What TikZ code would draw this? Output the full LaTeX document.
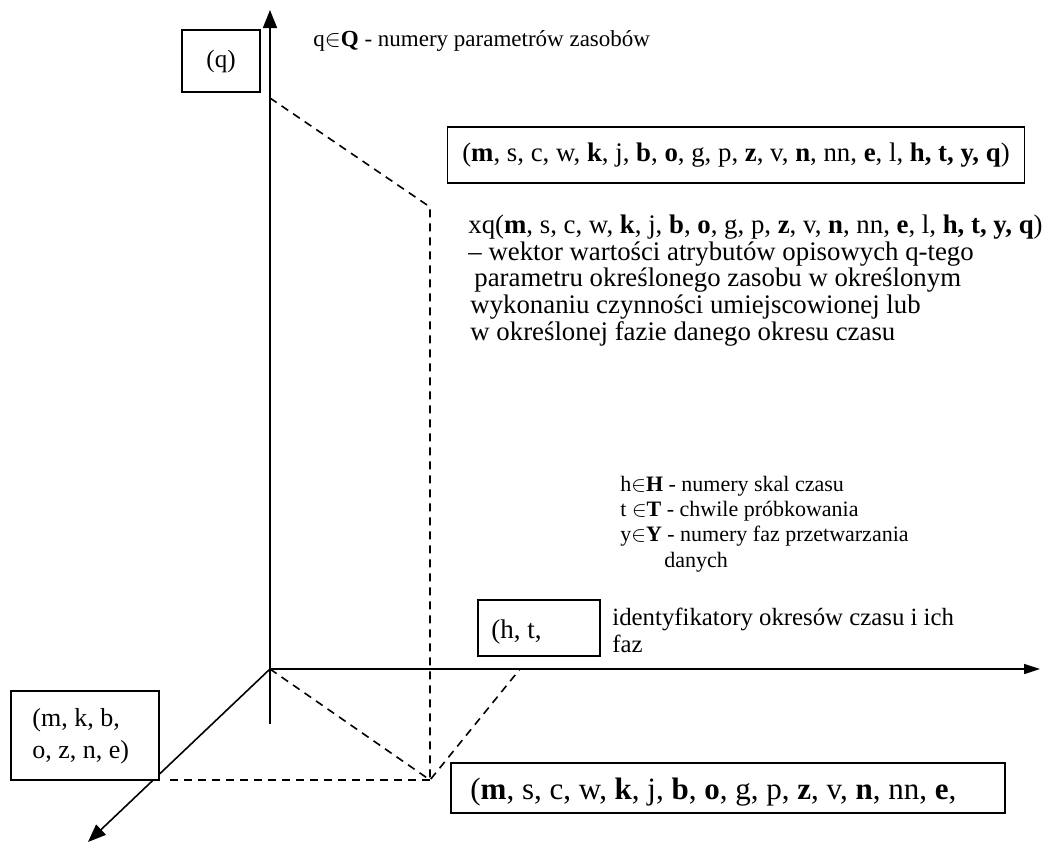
\documentclass[tikz,border=0pt]{standalone}
\usepackage{fontspec}
\setmainfont{Liberation Serif}
\usetikzlibrary{arrows.meta,positioning}
\tikzset{
  %% rectangular label box
  lblbox/.style={rectangle,draw=black,thick,fill=white,inner sep=0pt},
  %% free text
  txt/.style={align=left,inner sep=0pt,font=\fontsize{11}{12.6}\selectfont},
  midtxt/.style={align=left,inner sep=0pt,font=\fontsize{12.4}{13.5}\selectfont},
  vectxt/.style={align=left,inner sep=0pt,font=\fontsize{13.4}{13.3}\selectfont},
  bigtxt/.style={inner sep=0pt,font=\fontsize{15.5}{16}\selectfont},
  %% axes and guides
  axis/.style={-{Triangle[length=9pt,width=7pt]},thick},
  guide/.style={thick,dash pattern=on 4pt off 3pt},
}
\begin{document}
\begin{tikzpicture}[x=0.5pt,y=-0.5pt]
  \useasboundingbox (0,0) rectangle (1050,853);
  %% axes
  \coordinate (o)    at (270,669);
  \coordinate (obot) at (270,724);
  \coordinate (qend) at (270,10);
  \coordinate (hend) at (1040,669);
  \coordinate (dend) at (88,842);
  \draw[axis] (obot) -- (qend);
  \draw[axis,-{Triangle[length=8pt,width=5pt]}] (o) -- (hend);
  \draw[axis] (o) -- (dend);

  %% dashed projection lines
  \coordinate (pq)  at (270,98);
  \coordinate (pu)  at (430,207);
  \coordinate (pd)  at (430,780);
  \coordinate (pl)  at (170,780);
  \coordinate (ph)  at (520,669);
  \draw[guide] (pq) -- (pu) -- (pd);
  \draw[guide] (o) -- (pd) -- (ph);
  \draw[guide] (pl) -- (pd);

  %% boxes
  \node[lblbox,minimum width=39pt,minimum height=31pt] (qbox) at (221,61)
    {\fontsize{12.5}{14}\selectfont(q)};
  \node[lblbox,minimum width=288.5pt,minimum height=28pt] (vecbox) at (736,155)
    {\fontsize{13.4}{15}\selectfont(\textbf{m}, s, c, w, \textbf{k}, j, \textbf{b}, \textbf{o}, g, p, \textbf{z}, v, \textbf{n}, nn, \textbf{e}, l, \textbf{h, t, y, q})};
  \node[lblbox,minimum width=61pt,minimum height=28pt] (htbox) at (539,628) {};
  \node[bigtxt,anchor=base west,font=\fontsize{13.5}{14}\selectfont] (httxt) at (491,638) {(h, t,};
  \node[lblbox,minimum width=74pt,minimum height=44.5pt] (mkbox) at (85,735.5) {};
  \node[midtxt,anchor=base west,font=\fontsize{13}{16}\selectfont] (mktxt) at (32,758) {(m, k, b,\\o, z, n, e)};
  \node[lblbox,minimum width=277pt,minimum height=25pt] (lowbox) at (728,788) {};
  \node[bigtxt,anchor=base west] (lowtxt) at (470,799)
    {(\textbf{m}, s, c, w, \textbf{k}, j, \textbf{b}, \textbf{o}, g, p, \textbf{z}, v, \textbf{n}, nn, \textbf{e},};

  %% descriptions (anchored at the baseline of the last line)
  \node[txt,anchor=base west,font=\fontsize{11.5}{13}\selectfont] (qdesc) at (313,46)
    {q$\in$\textbf{Q} - numery parametrów zasobów};
  \node[vectxt,anchor=base west] (xqdesc) at (468,340)
    {xq(\textbf{m}, s, c, w, \textbf{k}, j, \textbf{b}, \textbf{o}, g, p, \textbf{z}, v, \textbf{n}, nn, \textbf{e}, l, \textbf{h, t, y, q})\\
     – wektor wartości atrybutów opisowych q-tego\\
     \hspace{3pt}parametru określonego zasobu w określonym\\
     \hspace{1pt}wykonaniu czynności umiejscowionej lub\\
     \hspace{1pt}w określonej fazie danego okresu czasu};
  \node[txt,anchor=base west] (hdesc) at (620,567)
    {h$\in$\textbf{H} - numery skal czasu\\
     t $\in$\textbf{T} - chwile próbkowania\\
     y$\in$\textbf{Y} - numery faz przetwarzania\\
     \hspace{22pt}danych};
  \node[midtxt,anchor=base west] (iddesc) at (612,652)
    {identyfikatory okresów czasu i ich\\faz};
\end{tikzpicture}
\end{document}
